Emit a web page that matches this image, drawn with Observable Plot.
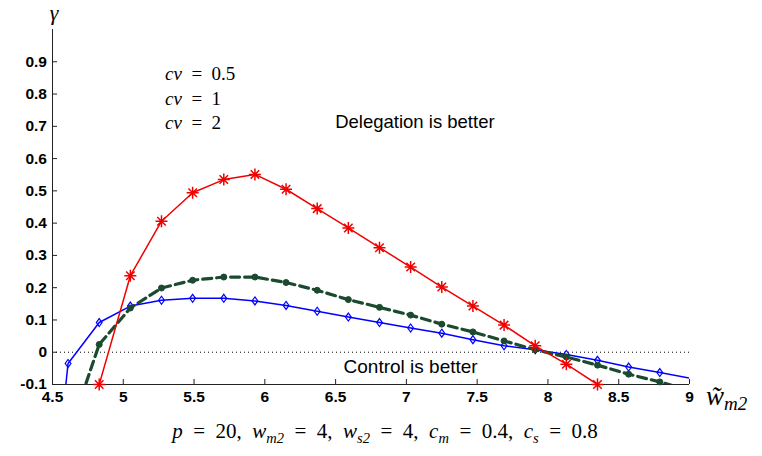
<!DOCTYPE html>
<html>
<head>
<meta charset="utf-8">
<script src="https://cdn.jsdelivr.net/npm/d3@7"></script>
<script src="https://cdn.jsdelivr.net/npm/@observablehq/plot@0.6"></script>
<style>
  body { margin: 0; background: #fff; }
  #chart svg { display: block; }
</style>
</head>
<body>
<div id="chart"></div>
<script>
// Common grid of w̃_m2 values shared by the three curves
const wGrid = [4.39, 4.61, 4.83, 5.05, 5.27, 5.49, 5.71, 5.93, 6.15, 6.37, 6.59,
               6.81, 7.03, 7.25, 7.47, 7.69, 7.91, 8.13, 8.35, 8.57, 8.79, 9.01];

// γ for each curve (null = not computed at that grid point)
const gammaDiamond = [-0.95, -0.035, 0.092, 0.143, 0.161, 0.167, 0.167, 0.159, 0.145, 0.127, 0.109,
                      0.092, 0.075, 0.059, 0.039, 0.020, 0.008, -0.007, -0.025, -0.046, -0.063, -0.081];
const gammaDashed  = [null, -0.26, 0.024, 0.137, 0.199, 0.223, 0.233, 0.233, 0.216, 0.192, 0.163,
                      0.139, 0.115, 0.087, 0.063, 0.035, 0.008, -0.015, -0.040, -0.068, -0.092, -0.12];
const gammaStar    = [null, null, -0.10, 0.237, 0.406, 0.494, 0.535, 0.551, 0.505, 0.445, 0.385,
                      0.324, 0.264, 0.202, 0.143, 0.084, 0.020, -0.037, -0.100, null, null, null];

// Axis ticks
const xTicks = [4.5, 5, 5.5, 6, 6.5, 7, 7.5, 8, 8.5, 9];
const yTicks = [-0.1, 0, 0.1, 0.2, 0.3, 0.4, 0.5, 0.6, 0.7, 0.8, 0.9];

// Text
const cvValues = ["0.5", "1", "2"];
const regionText = ["Delegation is better", "Control is better"];
const params = [["p", "", "20"], ["w", "m2", "4"], ["w", "s2", "4"], ["c", "m", "0.4"], ["c", "s", "0.8"]];

const xDomain = [4.5, 9];
const yDomain = [-0.1, 1.0];

const toRows = (values) => wGrid.map((w, i) => ({w, g: values[i]})).filter(d => d.g != null);
const visible = (rows) => rows.filter(d => d.g >= yDomain[0] - 1e-9 && d.w <= xDomain[1]);

const diamondRows = toRows(gammaDiamond);
const dashedRows = toRows(gammaDashed);
const starRows = toRows(gammaStar);

// Marker shapes: eight‑spoke asterisk and an upright diamond
const asterisk = {
  draw(ctx, size) {
    const r = Math.sqrt(size / Math.PI);
    for (let k = 0; k < 4; k++) {
      const a = k * Math.PI / 4, dx = r * Math.cos(a), dy = r * Math.sin(a);
      ctx.moveTo(-dx, -dy);
      ctx.lineTo(dx, dy);
    }
  }
};
const diamond = {
  draw(ctx, size) {
    const r = Math.sqrt(size / Math.PI);
    ctx.moveTo(0, -r);
    ctx.lineTo(r * 0.72, 0);
    ctx.lineTo(0, r);
    ctx.lineTo(-r * 0.72, 0);
    ctx.closePath();
  }
};

const red = "#f20000", blue = "#0000ff", green = "#1b4a2f";
const tickFont = "Liberation Sans, Arial, sans-serif";
const mathFont = "Liberation Serif, 'DejaVu Serif', serif";

const fmt = d => d === 0 ? "0" : String(d);

const chart = Plot.plot({
  width: 762,
  height: 456,
  marginLeft: 52,
  marginRight: 73,
  marginTop: 29,
  marginBottom: 72,
  style: {fontFamily: tickFont, fontSize: "15px", color: "#000", background: "#fff"},
  x: {domain: xDomain},
  y: {domain: yDomain},
  marks: [
    Plot.ruleY([0], {stroke: "#000", strokeWidth: 1, strokeDasharray: "1,3"}),
    Plot.ruleX([xDomain[0]], {stroke: "#222"}),
    Plot.ruleY([yDomain[0]], {stroke: "#222"}),
    Plot.axisX(xTicks, {anchor: "bottom", tickSize: -5, tickPadding: 11, tickFormat: fmt, stroke: "#222", fill: "#000", fontSize: 15.5, fontWeight: "bold", label: null}),
    Plot.axisY(yTicks, {anchor: "left", tickSize: -5, tickPadding: 10.5, tickFormat: fmt, stroke: "#222", fill: "#000", fontSize: 15.5, fontWeight: "bold", label: null}),

    // Region annotations
    Plot.text([regionText[0]], {x: () => 7.06, y: () => 0.694, text: d => d, textAnchor: "middle", lineAnchor: "bottom", fontSize: 18.5, fill: "#000"}),
    Plot.text([regionText[1]], {x: () => 7.03, y: () => -0.064, text: d => d, textAnchor: "middle", lineAnchor: "bottom", fontSize: 19, fill: "#000"}),

    // Curves
    Plot.line(diamondRows, {x: "w", y: "g", stroke: blue, strokeWidth: 1.5, clip: true}),
    Plot.dot(visible(diamondRows), {x: "w", y: "g", symbol: diamond, r: 4, stroke: blue, strokeWidth: 1.2, fill: "none"}),

    Plot.line(dashedRows, {x: "w", y: "g", stroke: green, strokeWidth: 3.2, strokeDasharray: "9,5", clip: true}),
    Plot.dot(visible(dashedRows), {x: "w", y: "g", r: 3, fill: green, stroke: green, strokeWidth: 1}),

    Plot.line(starRows, {x: "w", y: "g", stroke: red, strokeWidth: 1.5, clip: true}),
    Plot.dot(visible(starRows), {x: "w", y: "g", symbol: asterisk, r: 6, stroke: red, strokeWidth: 1.5, fill: "none"})
  ]
});

document.getElementById("chart").appendChild(chart);

// Math-style labels with italics and subscripts
const svg = d3.select(chart);
const addMath = (x, y, size, anchor) => svg.append("text")
  .attr("x", x).attr("y", y)
  .attr("text-anchor", anchor)
  .attr("font-family", mathFont)
  .attr("font-size", size)
  .attr("fill", "#000")
  .style("white-space", "pre");

// γ above the y axis
addMath(54, 20, 22, "middle").append("tspan").attr("font-style", "italic").text("γ");

// w̃_m2 next to the x axis
{
  const t = addMath(706, 405, 27, "start");
  t.append("tspan").attr("font-style", "italic").text("w\u0303");
  t.append("tspan").attr("font-style", "italic").attr("font-size", 19).attr("dy", 5).text("m2");
}

// cv legend entries
cvValues.forEach((v, i) => {
  const t = addMath(165, 80 + i * 24.5, 19, "start");
  t.append("tspan").attr("font-style", "italic").text("cv");
  t.append("tspan").text("  =  " + v);
});

// Parameter caption under the chart
{
  const t = addMath(385, 438, 21, "middle");
  params.forEach(([sym, sub, val], i) => {
    t.append("tspan").attr("font-style", "italic").text(sym);
    if (sub) t.append("tspan").attr("font-style", "italic").attr("font-size", 14.5).attr("dy", 5).text(sub);
    t.append("tspan").attr("dy", sub ? -5 : 0).text("  =  " + val + (i < params.length - 1 ? ",  " : ""));
  });
}
</script>
</body>
</html>
